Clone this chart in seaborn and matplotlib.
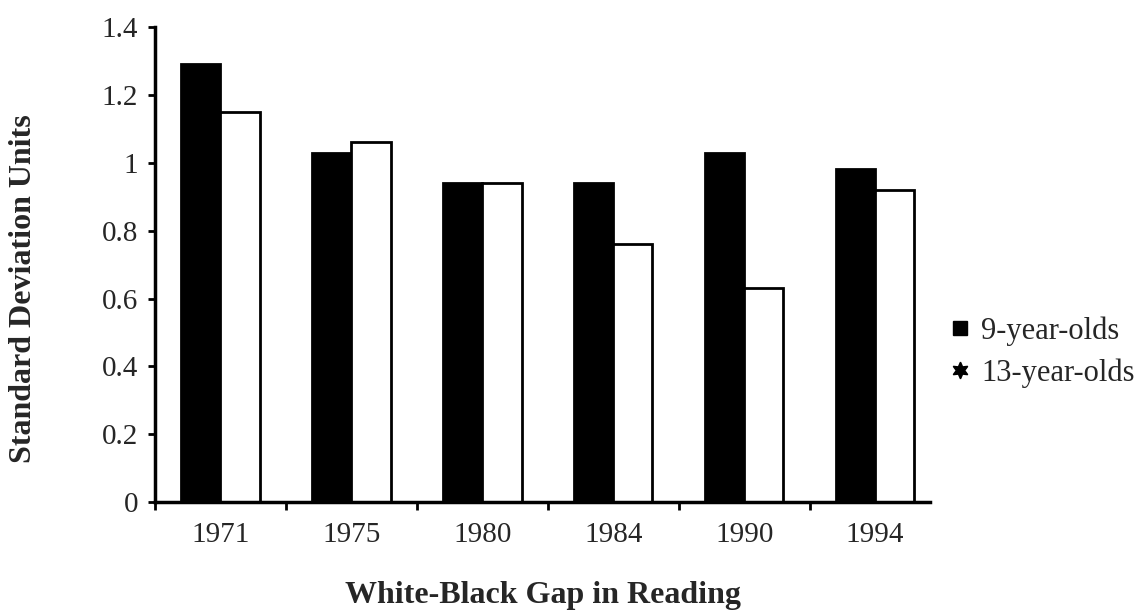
import matplotlib
matplotlib.use("Agg")
import matplotlib.pyplot as plt
from matplotlib.lines import Line2D
import pandas as pd
import seaborn as sns

# data
years = ["1971", "1975", "1980", "1984", "1990", "1994"]
age9 = [1.29, 1.03, 0.94, 0.94, 1.03, 0.98]
age13 = [1.15, 1.06, 0.94, 0.76, 0.63, 0.92]
groups = ["9-year-olds", "13-year-olds"]
y_ticks = [0, 0.2, 0.4, 0.6, 0.8, 1.0, 1.2, 1.4]
y_tick_labels = ["0", "0.2", "0.4", "0.6", "0.8", "1", "1.2", "1.4"]

df = pd.DataFrame({
    "year": years * 2,
    "value": age9 + age13,
    "group": [groups[0]] * len(years) + [groups[1]] * len(years),
})

sns.set_style("white")
plt.rcParams["font.family"] = ["Liberation Serif", "DejaVu Serif"]

fig = plt.figure(figsize=(11.42, 6.11), dpi=100)
ax = fig.add_axes([0.1357, 0.178, 0.6787, 0.778])

sns.barplot(data=df, x="year", y="value", hue="group", order=years,
            hue_order=groups, palette=["black", "white"], width=0.6,
            edgecolor="black", linewidth=2, saturation=1, ax=ax, legend=False)

# axes look
ax.set_ylim(0, 1.4)
ax.set_xlim(-0.5, 5.42)
ax.set_yticks(y_ticks)
ax.set_yticklabels(y_tick_labels, fontsize=21)
ax.set_xticks(range(len(years)))
ax.set_xticklabels(years, fontsize=21)
ax.tick_params(axis="x", which="major", bottom=False, length=0, pad=14)
ax.set_xticks([i - 0.5 for i in range(len(years))], minor=True)
ax.tick_params(axis="x", which="minor", bottom=True, length=6, width=2,
               direction="out", color="black")
ax.tick_params(axis="y", left=True, length=5, width=2, direction="out",
               pad=7, color="black")

for side in ["top", "right"]:
    ax.spines[side].set_visible(False)
for side in ["left", "bottom"]:
    ax.spines[side].set_linewidth(2.5)
    ax.spines[side].set_color("black")

ax.set_xlabel("White-Black Gap in Reading", fontsize=23, fontweight="bold",
              labelpad=24)
ax.set_ylabel("Standard Deviation Units", fontsize=23, fontweight="bold")
ax.yaxis.set_label_coords(-0.1505, 0.45)

# legend
handles = [
    Line2D([], [], marker="s", color="black", linestyle="none", markersize=10),
    Line2D([], [], marker=(6, 1, 0), color="black", linestyle="none", markersize=12),
]
ax.legend(handles, groups, loc="center left", bbox_to_anchor=(0.983, 0.316),
          frameon=False, fontsize=22, handletextpad=0.2, labelspacing=0.4,
          handlelength=1.0)

plt.savefig("out.png", dpi=100)
